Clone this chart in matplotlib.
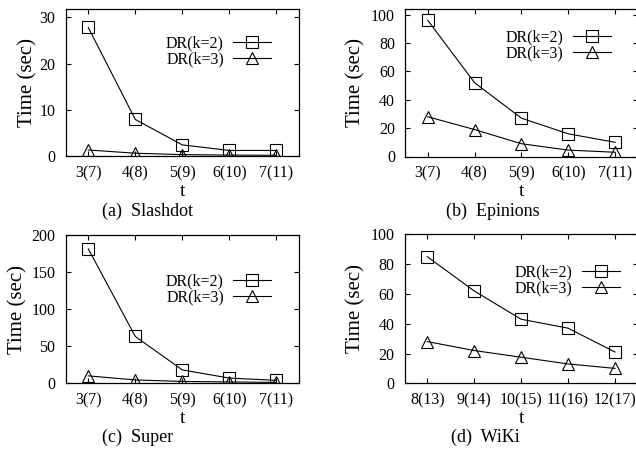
"""Runtime of DR(k=2) / DR(k=3) on four datasets, 2x2 panels."""
import matplotlib
matplotlib.use("Agg")
import matplotlib.pyplot as plt

W, H = 636, 450

plt.rcParams["font.family"] = ["Liberation Serif", "DejaVu Serif"]

# ── data ───────────────────────────────────────────────────────────────
t_small = ["3(7)", "4(8)", "5(9)", "6(10)", "7(11)"]
t_wiki  = ["8(13)", "9(14)", "10(15)", "11(16)", "12(17)"]

slashdot_k2 = [27.8, 7.9, 2.4, 1.2, 1.2]
slashdot_k3 = [1.3, 0.6, 0.3, 0.2, 0.15]
epinions_k2 = [96, 52, 27, 16, 10]
epinions_k3 = [28, 19, 9, 4.5, 3]
super_k2    = [181, 63, 18, 7, 4]
super_k3    = [10, 4.5, 2.5, 1.8, 1.2]
wiki_k2     = [85, 62, 43, 37, 21]
wiki_k3     = [28, 22, 17.5, 13, 10]

def px(x, y):
    return x / W, 1 - y / H

fig = plt.figure(figsize=(W / 100, H / 100), dpi=100)

# (left, top, right, bottom) in pixels
panels = [
    dict(box=(65.7, 9, 299, 156), labels=t_small, k2=slashdot_k2, k3=slashdot_k3,
         ylim=31.8, yticks=[0, 10, 20, 30], leg=(0.88, 0.82),
         ylab_x=27.5, cap="(a)  Slashdot", cap_xy=(101.7, 216)),
    dict(box=(405.3, 9, 637.6, 156.5), labels=t_small, k2=epinions_k2, k3=epinions_k3,
         ylim=104, yticks=[0, 20, 40, 60, 80, 100], leg=(0.885, 0.86),
         ylab_x=356, cap="(b)  Epinions", cap_xy=(446, 216)),
    dict(box=(65.7, 234.7, 299, 383.3), labels=t_small, k2=super_k2, k3=super_k3,
         ylim=200, yticks=[0, 50, 100, 150, 200], leg=(0.88, 0.738),
         ylab_x=17.5, cap="(c)  Super", cap_xy=(101.7, 442)),
    dict(box=(404.7, 234.3, 637.5, 383.3), labels=t_wiki, k2=wiki_k2, k3=wiki_k3,
         ylim=100, yticks=[0, 20, 40, 60, 80, 100], leg=(0.923, 0.797),
         ylab_x=356, cap="(d)  WiKi", cap_xy=(450.7, 442)),
]

for p in panels:
    l, t, r, b = p["box"]
    ax = fig.add_axes([l / W, 1 - b / H, (r - l) / W, (b - t) / H])
    x = range(len(p["labels"]))
    ax.plot(x, p["k2"], color="black", lw=0.8, marker="s", ms=8,
            mfc="none", mec="black", mew=0.8, label="DR(k=2)")
    ax.plot(x, p["k3"], color="black", lw=0.8, marker="^", ms=8,
            mfc="none", mec="black", mew=0.8, label="DR(k=3)")
    ax.set_xlim(-0.48, 4.48)
    ax.set_ylim(0, p["ylim"])
    ax.set_xticks(list(x))
    ax.set_xticklabels(p["labels"])
    ax.set_yticks(p["yticks"])
    ax.tick_params(direction="in", top=True, right=True, length=3.5, width=0.8,
                   labelsize=11.5)
    ax.tick_params(axis="x", pad=6.5)
    ax.tick_params(axis="y", pad=7.5)
    for s in ax.spines.values():
        s.set_linewidth(0.9)
    ax.legend(loc="upper right", bbox_to_anchor=p["leg"], frameon=False,
              markerfirst=False, fontsize=11.5, handlelength=2.35,
              handletextpad=0.6, labelspacing=0.0, borderpad=0,
              borderaxespad=0)
    # axis titles
    fig.text(*px(p["ylab_x"], (t + b) / 2), "Time (sec)", rotation=90,
             ha="center", va="center", fontsize=15)
    fig.text(*px((l + r) / 2, b + 40), "t", ha="center", va="baseline",
             fontsize=14)
    fig.text(*px(*p["cap_xy"]), p["cap"], ha="left", va="baseline",
             fontsize=13)

fig.savefig("out.png", dpi=100)
plt.close(fig)
